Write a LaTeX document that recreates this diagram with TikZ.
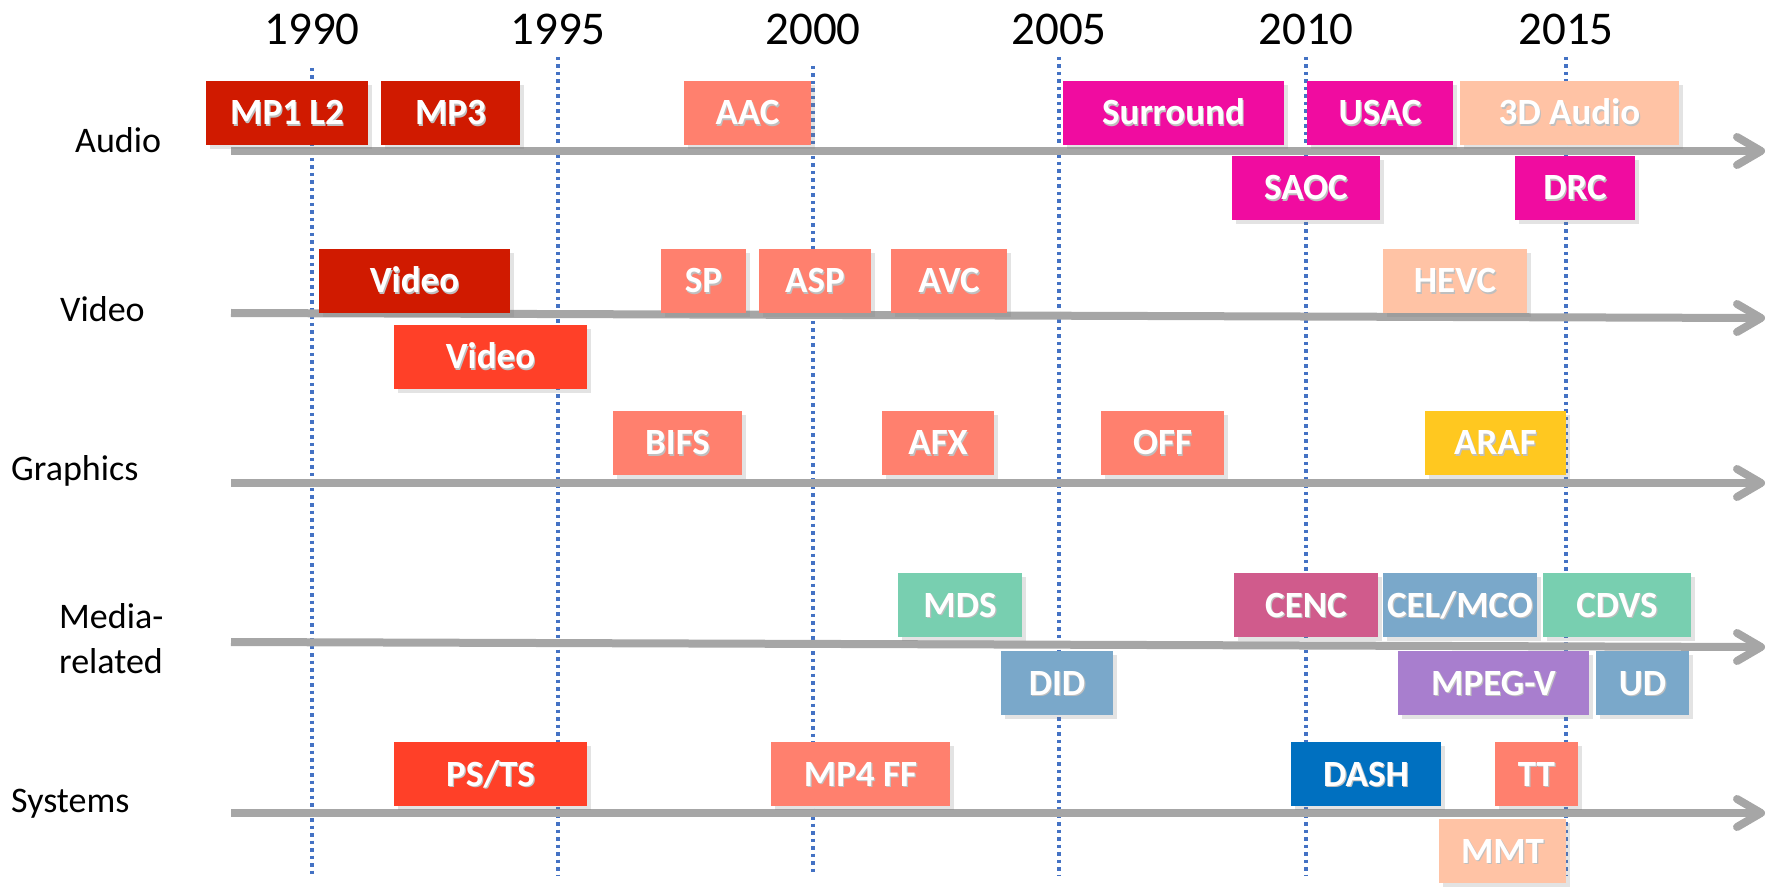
\documentclass[tikz,border=0pt]{standalone}
\usepackage{fontspec}
\setmainfont{Carlito}
\usetikzlibrary{shadows}
\definecolor{cDark}{RGB}{208,26,0}
\definecolor{cRed}{RGB}{255,64,40}
\definecolor{cSalmon}{RGB}{255,128,110}
\definecolor{cMag}{RGB}{240,12,160}
\definecolor{cPeach}{RGB}{255,195,165}
\definecolor{cYellow}{RGB}{255,200,32}
\definecolor{cTeal}{RGB}{120,207,176}
\definecolor{cPink}{RGB}{208,91,140}
\definecolor{cSteel}{RGB}{122,168,202}
\definecolor{cPurple}{RGB}{168,126,206}
\definecolor{cBlue}{RGB}{0,112,192}
\definecolor{cGrid}{RGB}{68,114,196}
\definecolor{cAxis}{RGB}{166,166,166}
\newcommand\shtxt[1]{\rlap{\kern1.2pt\raisebox{-1.2pt}{\textcolor{black!25}{#1}}}#1}
\begin{document}
\begin{tikzpicture}[x=1pt,y=-1pt,
  box/.style={rectangle, inner sep=0pt, minimum height=64pt, text=white,
    font=\fontsize{37}{40}\selectfont\bfseries, text height=24pt, text depth=0pt,
    drop shadow={opacity=0.22, shadow xshift=4pt, shadow yshift=-4pt}},
  rowlabel/.style={anchor=base west, inner sep=0pt, font=\fontsize{36}{45}\selectfont},
  year/.style={anchor=base, inner sep=0pt, font=\fontsize{47}{50}\selectfont},
  gridline/.style={cGrid, line width=3.2pt, dash pattern=on 3.5pt off 4pt},
  axis/.style={cAxis, line width=8pt},
  barb/.style={cAxis, line width=8pt, line cap=round, line join=round}]
\useasboundingbox (0,0) rectangle (1781,890);

% year grid lines
\foreach \yr/\x/\t in {1990/312/68, 1995/558/57, 2000/813/66, 2005/1059/57, 2010/1306/57, 2015/1566/57}{
  \node[year] (y\yr) at (\x,45) {\yr};
  \coordinate (gt\yr) at (\x,\t);
  \coordinate (gb\yr) at (\x,875);
  \draw[gridline] (gt\yr) -- (gb\yr);
}

% row axes
\foreach \n/\ya/\yb in {audio/151/151, video/313/318, graphics/483/483, media/642/647, systems/813/813}{
  \coordinate (\n S) at (231,\ya);
  \coordinate (\n E) at (1758,\yb);
  \draw[axis] (\n S) -- (\n E);
  \draw[barb] (1737,\yb-14) -- (1761,\yb) -- (1737,\yb+14);
}

% row labels
\node[rowlabel] (laudio) at (75,153) {Audio};
\node[rowlabel] (lvideo) at (60,322) {Video};
\node[rowlabel] (lgraph) at (11,480) {Graphics};
\node[rowlabel] (lmedia1) at (59,628) {Media-};
\node[rowlabel] (lmedia2) at (59,673) {related};
\node[rowlabel] (lsys) at (11,812) {Systems};

% Audio
\node[box, fill=cDark, minimum width=162pt] (mp1) at (287,113) {\shtxt{MP1 L2}};
\node[box, fill=cDark, minimum width=139pt] (mp3) at (450.5,113) {\shtxt{MP3}};
\node[box, fill=cSalmon, minimum width=127pt] (aac) at (747.5,113) {\shtxt{AAC}};
\node[box, fill=cMag, minimum width=221pt] (surr) at (1173.5,113) {\shtxt{Surround}};
\node[box, fill=cMag, minimum width=146pt] (usac) at (1380,113) {\shtxt{USAC}};
\node[box, fill=cPeach, minimum width=219pt] (aud3d) at (1569.5,113) {\shtxt{3D Audio}};
\node[box, fill=cMag, minimum width=148pt] (saoc) at (1306,188) {\shtxt{SAOC}};
\node[box, fill=cMag, minimum width=120pt] (drc) at (1575,188) {\shtxt{DRC}};

% Video
\node[box, fill=cDark, minimum width=191pt] (vid1) at (414.5,281) {\shtxt{Video}};
\node[box, fill=cSalmon, minimum width=85pt] (sp) at (703.5,281) {\shtxt{SP}};
\node[box, fill=cSalmon, minimum width=112pt] (asp) at (815,281) {\shtxt{ASP}};
\node[box, fill=cSalmon, minimum width=116pt] (avc) at (949,281) {\shtxt{AVC}};
\node[box, fill=cPeach, minimum width=144pt] (hevc) at (1455,281) {\shtxt{HEVC}};
\node[box, fill=cRed, minimum width=193pt] (vid2) at (490.5,357) {\shtxt{Video}};

% Graphics
\node[box, fill=cSalmon, minimum width=129pt] (bifs) at (677.5,443) {\shtxt{BIFS}};
\node[box, fill=cSalmon, minimum width=112pt] (afx) at (938,443) {\shtxt{AFX}};
\node[box, fill=cSalmon, minimum width=123pt] (off) at (1162.5,443) {\shtxt{OFF}};
\node[box, fill=cYellow, minimum width=141pt] (araf) at (1495.5,443) {\shtxt{ARAF}};

% Media-related
\node[box, fill=cTeal, minimum width=124pt] (mds) at (960,605) {\shtxt{MDS}};
\node[box, fill=cPink, minimum width=144pt] (cenc) at (1306,605) {\shtxt{CENC}};
\node[box, fill=cSteel, minimum width=154pt] (celmco) at (1460,605) {\shtxt{CEL/MCO}};
\node[box, fill=cTeal, minimum width=148pt] (cdvs) at (1617,605) {\shtxt{CDVS}};
\node[box, fill=cSteel, minimum width=112pt] (did) at (1057,683) {\shtxt{DID}};
\node[box, fill=cPurple, minimum width=191pt] (mpegv) at (1493.5,683) {\shtxt{MPEG-V}};
\node[box, fill=cSteel, minimum width=93pt] (ud) at (1642.5,683) {\shtxt{UD}};

% Systems
\node[box, fill=cRed, minimum width=193pt] (psts) at (490.5,774) {\shtxt{PS/TS}};
\node[box, fill=cSalmon, minimum width=179pt] (mp4ff) at (860.5,774) {\shtxt{MP4 FF}};
\node[box, fill=cBlue, minimum width=150pt] (dash) at (1366,774) {\shtxt{DASH}};
\node[box, fill=cSalmon, minimum width=83pt] (tt) at (1536.5,774) {\shtxt{TT}};
\node[box, fill=cPeach, minimum width=127pt] (mmt) at (1502.5,851) {\shtxt{MMT}};
\end{tikzpicture}
\end{document}
